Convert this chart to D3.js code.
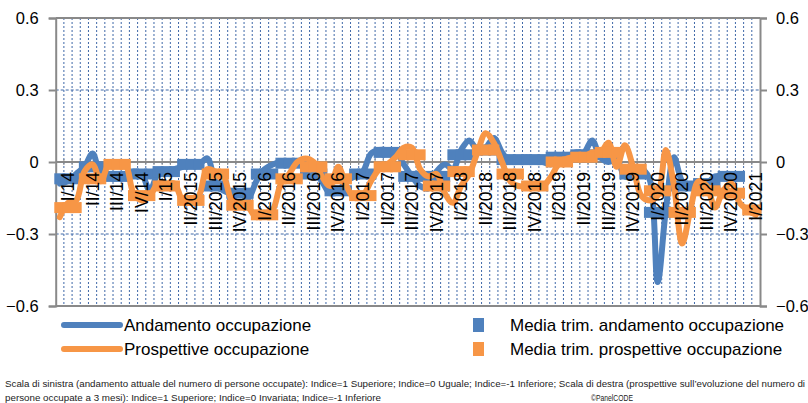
<!DOCTYPE html>
<html>
<head>
<meta charset="utf-8">
<script src="https://cdn.jsdelivr.net/npm/d3@7"></script>
<style>
  html, body { margin: 0; padding: 0; background: #fff; }
  svg { display: block; font-family: "Liberation Sans", Arial, sans-serif; }
</style>
</head>
<body>
<svg id="chart" width="808" height="403"></svg>
<script>
// monthly categories, Jan 2014 .. Feb 2021
const months = d3.timeMonths(new Date(2014, 0, 1), new Date(2021, 2, 1));

// quarter labels, placed on the middle month of each quarter
const quarterLabels = [
  'I/14', 'II/14', 'III/14', 'IV/14', 'I/15', 'II/2015', 'III/2015', 'IV/2015',
  'I/2016', 'II/2016', 'III/2016', 'IV/2016', 'I/2017', 'II/2017', 'III/2017', 'IV/2017',
  'I/2018', 'II/2018', 'III/2018', 'IV/2018', 'I/2019', 'II/2019', 'III/2019', 'IV/2019',
  'I/2020', 'II/2020', 'III/2020', 'IV/2020', 'I/2021'
];

// andamento occupazione (monthly)
const andamento = [
  -0.09, -0.08, -0.05, -0.02, 0.035, -0.05, -0.06, -0.07, -0.06, -0.04, -0.05, -0.12,
  -0.05, -0.04, -0.03, -0.02, -0.01, -0.01, 0.015, -0.08, -0.12, -0.13, -0.13, -0.15,
  -0.08, -0.03, -0.01, 0.0, 0.0, 0.0, -0.005, -0.04, -0.08, -0.13, -0.12, -0.08,
  -0.06, -0.04, 0.035, 0.05, 0.05, 0.045, -0.01, -0.06, -0.1, -0.11, -0.04, -0.01,
  -0.03, 0.05, 0.09, 0.05, 0.06, 0.1, 0.04, 0.0, 0.01, 0.02, 0.01, 0.0,
  -0.01, 0.02, 0.025, 0.04, 0.04, 0.09, 0.02, 0.0, 0.01, -0.06, -0.06, -0.03,
  -0.07, -0.5, -0.2, 0.02, -0.08, -0.1, -0.09, -0.09, -0.06, -0.06, -0.06, null,
  null, null
];

// prospettive occupazione (monthly)
const prospettive = [
  -0.23, -0.17, -0.16, -0.04, -0.01, -0.08, -0.01, -0.005, -0.01, -0.13, -0.16, -0.14,
  -0.09, -0.09, -0.09, -0.16, -0.17, -0.14, -0.03, -0.04, -0.06, -0.16, -0.18, -0.19,
  -0.23, -0.22, -0.2, -0.09, -0.05, 0.0, 0.015, 0.0, -0.06, -0.1, -0.02, -0.1,
  -0.15, -0.14, -0.08, -0.03, -0.01, 0.02, 0.06, 0.06, -0.03, -0.06, -0.05, -0.13,
  -0.17, -0.1, -0.05, 0.04, 0.12, 0.08, 0.0, -0.08, -0.1, -0.1, -0.1, -0.1,
  -0.06, -0.005, 0.015, 0.02, 0.02, 0.04, 0.04, 0.08, -0.02, 0.07, -0.02, -0.14,
  -0.16, -0.14, 0.05, -0.1, -0.34, -0.2, -0.08, -0.1, -0.19, -0.12, -0.09, -0.17,
  -0.2, -0.22
];

// quarterly means
const mediaAndamento = [
  -0.07, -0.02, -0.06, -0.05, -0.04, -0.01, -0.1, -0.13,
  -0.05, -0.005, -0.05, -0.12, -0.05, 0.04, -0.06, -0.06,
  0.03, 0.05, 0.01, 0.01, 0.02, 0.03, 0.03, -0.05,
  -0.21, -0.1, -0.09, -0.06, null
];
const mediaProspettive = [
  -0.19, -0.07, -0.01, -0.14, -0.1, -0.16, -0.05, -0.18,
  -0.22, -0.07, -0.02, -0.07, -0.14, -0.02, 0.03, -0.1,
  -0.04, 0.05, -0.05, -0.1, 0.0, 0.02, 0.04, -0.03,
  -0.12, -0.21, -0.12, -0.13, -0.2
];

const yTicks = [0.6, 0.3, 0, -0.3, -0.6];
const gridTicks = [0.3, -0.3];

const BLUE = '#4f81bd';
const ORANGE = '#f79646';
const AXIS = '#898989';
const GRID = '#3f68a8';

const svg = d3.select('#chart');

const x = d3.scaleBand()
  .domain(d3.range(months.length))
  .range([55.7, 760]);

const y = d3.scaleLinear()
  .domain([-0.6, 0.6])
  .range([306, 18]);

const cx = i => x(i) + x.bandwidth() / 2;

// vertical dotted gridlines at every category boundary
svg.append('g')
  .selectAll('line')
  .data(d3.range(1, months.length))
  .join('line')
  .attr('x1', i => x(i)).attr('x2', i => x(i))
  .attr('y1', y(0.6)).attr('y2', y(-0.6))
  .attr('stroke', GRID)
  .attr('stroke-width', 1)
  .attr('stroke-dasharray', '2,2');

// horizontal dashed gridlines
svg.append('g')
  .selectAll('line')
  .data(gridTicks)
  .join('line')
  .attr('x1', 55.7).attr('x2', 760)
  .attr('y1', d => y(d)).attr('y2', d => y(d))
  .attr('stroke', GRID)
  .attr('stroke-width', 1)
  .attr('stroke-dasharray', '3,2');

// top / bottom border
svg.append('g')
  .selectAll('line')
  .data([0.6, -0.6])
  .join('line')
  .attr('x1', 55.7).attr('x2', 760)
  .attr('y1', d => y(d)).attr('y2', d => y(d))
  .attr('stroke', AXIS)
  .attr('stroke-width', 2);

// value axes, left and right
const fmt = d => d === 0 ? '0' : d3.format('.1f')(d);
const axisLeft = d3.axisLeft(y).tickValues(yTicks).tickFormat(fmt).tickSize(7).tickPadding(10);
const axisRight = d3.axisRight(y).tickValues(yTicks).tickFormat(fmt).tickSize(7).tickPadding(9);

[[axisLeft, 55.7], [axisRight, 760]].forEach(([ax, pos]) => {
  const g = svg.append('g')
    .attr('transform', `translate(${pos},0)`)
    .call(ax);
  g.select('.domain').attr('stroke', AXIS).attr('stroke-width', 2);
  g.selectAll('.tick line').attr('stroke', AXIS).attr('stroke-width', 2);
  g.selectAll('.tick text')
    .attr('fill', '#000')
    .style('font-size', '16.5px');
});

// category axis at 0 with crossing ticks
svg.append('line')
  .attr('x1', 55.7).attr('x2', 760)
  .attr('y1', y(0)).attr('y2', y(0))
  .attr('stroke', AXIS)
  .attr('stroke-width', 2);
svg.append('g')
  .selectAll('line')
  .data(d3.range(1, months.length))
  .join('line')
  .attr('x1', i => x(i)).attr('x2', i => x(i))
  .attr('y1', y(0) - 3).attr('y2', y(0) + 3)
  .attr('stroke', AXIS)
  .attr('stroke-width', 1);

const line = d3.line()
  .defined(d => d != null)
  .x((d, i) => cx(i))
  .y(d => y(d))
  .curve(d3.curveCatmullRom.alpha(0.5));

// quarterly means spread over the months of each quarter
const spread = arr => arr.flatMap((v, q) =>
  [0, 1, 2].map(k => ({ i: q * 3 + k, v }))
).filter(d => d.v != null && d.i < months.length);

const MK = 11;

function drawLine(data, color) {
  svg.append('path')
    .datum(data)
    .attr('d', line)
    .attr('fill', 'none')
    .attr('stroke', color)
    .attr('stroke-width', 6)
    .attr('stroke-linejoin', 'round')
    .attr('stroke-linecap', 'round');
}
function drawMarkers(data, color) {
  svg.append('g')
    .selectAll('rect')
    .data(spread(data))
    .join('rect')
    .attr('x', d => cx(d.i) - MK / 2)
    .attr('y', d => y(d.v) - MK / 2)
    .attr('width', MK).attr('height', MK)
    .attr('fill', color);
}

drawLine(andamento, BLUE);
drawMarkers(mediaAndamento, BLUE);
drawLine(prospettive, ORANGE);
drawMarkers(mediaProspettive, ORANGE);

// quarter labels, rotated
svg.append('g')
  .selectAll('text')
  .data(quarterLabels)
  .join('text')
  .attr('transform', (d, q) => `translate(${cx(q * 3 + 1)},172) rotate(-90)`)
  .attr('text-anchor', 'end')
  .attr('dy', '0.35em')
  .style('font-size', '17.5px')
  .attr('fill', '#000')
  .text(d => d);

// legend
const legend = svg.append('g').style('font-size', '17px');
const legendLines = [
  { label: 'Andamento occupazione', color: BLUE, y: 325 },
  { label: 'Prospettive occupazione', color: ORANGE, y: 349 }
];
const legendSquares = [
  { label: 'Media trim. andamento occupazione', color: BLUE, y: 325 },
  { label: 'Media trim. prospettive occupazione', color: ORANGE, y: 349 }
];
legendLines.forEach(d => {
  legend.append('line')
    .attr('x1', 64).attr('x2', 120)
    .attr('y1', d.y).attr('y2', d.y)
    .attr('stroke', d.color).attr('stroke-width', 6)
    .attr('stroke-linecap', 'round');
  legend.append('text')
    .attr('x', 124).attr('y', d.y).attr('dy', '0.35em')
    .text(d.label);
});
legendSquares.forEach(d => {
  legend.append('rect')
    .attr('x', 473).attr('y', d.y - 7)
    .attr('width', 11).attr('height', 14)
    .attr('fill', d.color);
  legend.append('text')
    .attr('x', 510).attr('y', d.y).attr('dy', '0.35em')
    .text(d.label);
});

// footer note
const note = svg.append('g').style('font-size', '9.5px').attr('fill', '#222');
note.append('text')
  .attr('x', 5).attr('y', 387)
  .attr('textLength', 800).attr('lengthAdjust', 'spacingAndGlyphs')
  .text('Scala di sinistra (andamento attuale del numero di persone occupate): Indice=1 Superiore; Indice=0 Uguale; Indice=-1 Inferiore; Scala di destra (prospettive sull\u2019evoluzione del numero di');
note.append('text')
  .attr('x', 5).attr('y', 401)
  .attr('textLength', 376).attr('lengthAdjust', 'spacingAndGlyphs')
  .text('persone occupate a 3 mesi): Indice=1 Superiore; Indice=0 Invariata; Indice=-1 Inferiore');
note.append('text')
  .attr('x', 591).attr('y', 401)
  .attr('textLength', 42).attr('lengthAdjust', 'spacingAndGlyphs')
  .text('\u00a9PanelCODE');
</script>
</body>
</html>
